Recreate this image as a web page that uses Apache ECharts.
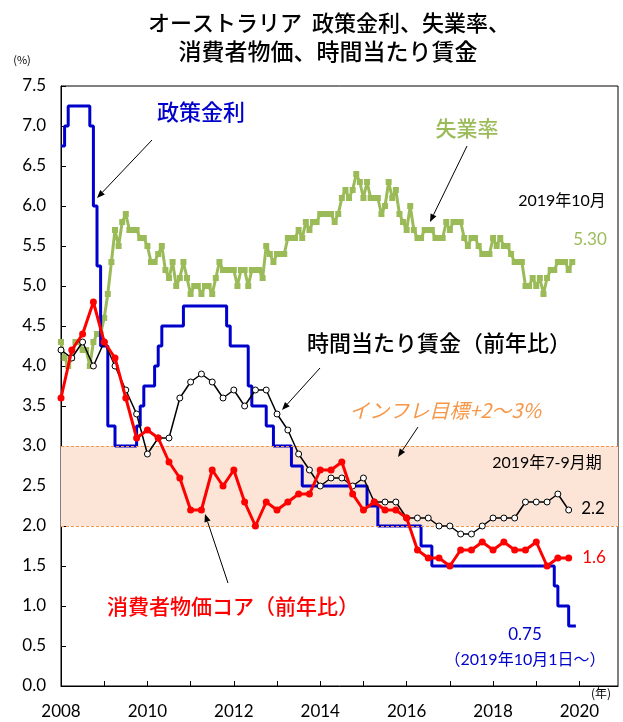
<!DOCTYPE html>
<html><head><meta charset="utf-8">
<script src="https://cdn.jsdelivr.net/npm/echarts@6/dist/echarts.min.js"></script>
<style>html,body{margin:0;padding:0;background:#fff}#c{width:623px;height:722px}</style>
</head><body><div id="c"></div>
<script>
// x positions are months counted from the "2008" tick (index 0 = Dec 2007)
const yearTicks = [2008, 2010, 2012, 2014, 2016, 2018, 2020];

// RBA cash rate, monthly (Dec 2007 .. Nov 2019)
const policyRate = [
  6.75, 6.75, 7.00, 7.25, 7.25, 7.25, 7.25, 7.25, 7.25, 7.00, 6.00, 5.25,
  4.25, 4.25, 3.25, 3.25, 3.00, 3.00, 3.00, 3.00, 3.00, 3.00, 3.25, 3.50,
  3.75, 3.75, 3.75, 4.00, 4.25, 4.50, 4.50, 4.50, 4.50, 4.50, 4.50, 4.75,
  4.75, 4.75, 4.75, 4.75, 4.75, 4.75, 4.75, 4.75, 4.75, 4.75, 4.75, 4.50,
  4.25, 4.25, 4.25, 4.25, 4.25, 3.75, 3.50, 3.50, 3.50, 3.50, 3.25, 3.25,
  3.00, 3.00, 3.00, 3.00, 3.00, 2.75, 2.75, 2.75, 2.50, 2.50, 2.50, 2.50,
  2.50, 2.50, 2.50, 2.50, 2.50, 2.50, 2.50, 2.50, 2.50, 2.50, 2.50, 2.50,
  2.50, 2.50, 2.25, 2.25, 2.25, 2.00, 2.00, 2.00, 2.00, 2.00, 2.00, 2.00,
  2.00, 2.00, 2.00, 2.00, 2.00, 1.75, 1.75, 1.75, 1.50, 1.50, 1.50, 1.50,
  1.50, 1.50, 1.50, 1.50, 1.50, 1.50, 1.50, 1.50, 1.50, 1.50, 1.50, 1.50,
  1.50, 1.50, 1.50, 1.50, 1.50, 1.50, 1.50, 1.50, 1.50, 1.50, 1.50, 1.50,
  1.50, 1.50, 1.50, 1.50, 1.50, 1.50, 1.25, 1.00, 1.00, 1.00, 0.75, 0.75
];

// Unemployment rate, monthly (Dec 2007 .. Oct 2019)
const unemployment = [
  4.3, 4.1, 4.0, 4.1, 4.3, 4.3, 4.2, 4.2, 4.0, 4.3, 4.4, 4.4,
  4.6, 4.9, 5.3, 5.7, 5.5, 5.8, 5.9, 5.7, 5.7, 5.7, 5.6, 5.6,
  5.5, 5.3, 5.3, 5.4, 5.5, 5.2, 5.1, 5.3, 5.0, 5.1, 5.3, 5.1,
  4.9, 5.0, 5.0, 4.9, 5.0, 5.0, 4.9, 5.1, 5.3, 5.2, 5.2, 5.2,
  5.2, 5.0, 5.2, 5.2, 5.0, 5.2, 5.2, 5.2, 5.1, 5.5, 5.4, 5.3,
  5.4, 5.4, 5.4, 5.6, 5.6, 5.6, 5.7, 5.6, 5.8, 5.7, 5.8, 5.8,
  5.9, 5.9, 5.9, 5.9, 5.8, 5.9, 6.1, 6.2, 6.1, 6.2, 6.4, 6.3,
  6.1, 6.3, 6.1, 6.1, 6.1, 5.9, 6.0, 6.3, 6.1, 6.2, 5.9, 5.8,
  5.7, 6.0, 5.7, 5.6, 5.6, 5.7, 5.7, 5.7, 5.6, 5.6, 5.6, 5.8,
  5.7, 5.8, 5.8, 5.8, 5.6, 5.5, 5.6, 5.6, 5.5, 5.4, 5.4, 5.4,
  5.6, 5.5, 5.6, 5.5, 5.5, 5.4, 5.3, 5.3, 5.3, 5.0, 5.0, 5.1,
  5.0, 5.1, 4.9, 5.1, 5.2, 5.2, 5.3, 5.3, 5.3, 5.2, 5.3
];

// Core CPI y/y, quarterly (Q4 2007 .. Q3 2019)
const coreCPI = [
  3.6, 4.2, 4.4, 4.8, 4.3, 4.1, 3.6, 3.1, 3.2, 3.1, 2.8, 2.6,
  2.2, 2.2, 2.7, 2.5, 2.7, 2.3, 2.0, 2.3, 2.2, 2.3, 2.4, 2.4,
  2.7, 2.7, 2.8, 2.4, 2.2, 2.3, 2.2, 2.2, 2.1, 1.7, 1.6, 1.6,
  1.5, 1.7, 1.7, 1.8, 1.7, 1.8, 1.7, 1.7, 1.8, 1.5, 1.6, 1.6
];

// Hourly wages y/y, quarterly (Q4 2007 .. Q3 2019)
const wages = [
  4.2, 4.1, 4.3, 4.0, 4.3, 4.0, 3.7, 3.4, 2.9, 3.1, 3.1, 3.6,
  3.8, 3.9, 3.8, 3.6, 3.7, 3.5, 3.7, 3.7, 3.4, 3.2, 2.9, 2.7,
  2.5, 2.6, 2.6, 2.5, 2.6, 2.3, 2.3, 2.3, 2.1, 2.1, 2.1, 2.0,
  2.0, 1.9, 1.9, 2.0, 2.1, 2.1, 2.1, 2.3, 2.3, 2.3, 2.4, 2.2
];

const targetBand = [2.0, 3.0];

const JP = "'Noto Sans CJK JP', sans-serif";
const NUM = "Lato, 'Noto Sans CJK JP', sans-serif";

function arrow(x1, y1, x2, y2) {
  const a = Math.atan2(y2 - y1, x2 - x1), L = 8, W = 3.2;
  const bx = x2 - L * Math.cos(a), by = y2 - L * Math.sin(a);
  const px = -Math.sin(a) * W, py = Math.cos(a) * W;
  return [
    {type: 'line', shape: {x1, y1, x2: bx, y2: by}, style: {stroke: '#000', lineWidth: 1}, z: 100},
    {type: 'polygon', shape: {points: [[x2, y2], [bx + px, by + py], [bx - px, by - py]]}, style: {fill: '#000'}, z: 100}
  ];
}
function txt(text, x, y, size, color, font, weight, italic) {
  const f = (italic ? 'italic ' : '') + (weight || 'normal') + ' ' + size + 'px ' + font;
  return {type: 'text', x, y, z: 100,
    style: {text, fill: color, font: f,
      align: 'center', verticalAlign: 'middle', textAlign: 'center', textVerticalAlign: 'middle'}};
}

const chart = echarts.init(document.getElementById('c'));
chart.setOption({
  animation: false,
  backgroundColor: '#fff',
  grid: {left: 61, right: 5, top: 86, bottom: 36, show: true, borderColor: '#000', borderWidth: 1, backgroundColor: 'transparent'},
  xAxis: {
    type: 'value', min: 0, max: 154.7, interval: 12,
    axisLine: {show: true, lineStyle: {color: '#000', width: 1}},
    axisTick: {show: true, inside: true, length: 5, lineStyle: {color: '#000'}},
    splitLine: {show: false},
    axisLabel: {
      margin: 17, color: '#000', fontSize: 17, fontFamily: NUM, showMaxLabel: false, hideOverlap: false,
      formatter: v => { const y = 2008 + v / 12; return yearTicks.includes(y) ? String(y) : ''; }
    }
  },
  yAxis: {
    type: 'value', min: 0, max: 7.5, interval: 0.5,
    axisLine: {show: true, lineStyle: {color: '#000', width: 1}},
    axisTick: {show: true, inside: true, length: 5, lineStyle: {color: '#000'}},
    splitLine: {show: false},
    axisLabel: {margin: 15, color: '#000', fontSize: 17, fontFamily: NUM, formatter: v => v.toFixed(1)}
  },
  series: [
    {
      type: 'line', name: 'band', data: [], silent: true,
      markArea: {silent: true, itemStyle: {color: '#FCE5D7'}, data: [[{yAxis: targetBand[0]}, {yAxis: targetBand[1]}]]},
      markLine: {silent: true, symbol: 'none', label: {show: false},
        lineStyle: {color: '#F79646', type: [3, 2], width: 1},
        data: targetBand.map(v => ({yAxis: v}))}
    },
    {
      type: 'line', name: '失業率', data: unemployment.map((v, i) => [i, v]),
      symbol: 'rect', symbolSize: 6, showAllSymbol: true,
      lineStyle: {color: '#9BBB59', width: 3}, itemStyle: {color: '#9BBB59'}, z: 3
    },
    {
      type: 'line', name: '政策金利', data: policyRate.map((v, i) => [i, v]), step: 'start',
      symbol: 'none', lineStyle: {color: '#0000CC', width: 3}, z: 4
    },
    {
      type: 'line', name: '時間当たり賃金', data: wages.map((v, i) => [i * 3, v]),
      symbol: 'circle', symbolSize: 6, showAllSymbol: true,
      lineStyle: {color: '#000', width: 1.5}, itemStyle: {color: '#fff', borderColor: '#000', borderWidth: 1}, z: 5
    },
    {
      type: 'line', name: '消費者物価コア', data: coreCPI.map((v, i) => [i * 3, v]),
      symbol: 'circle', symbolSize: 7, showAllSymbol: true,
      lineStyle: {color: '#FF0000', width: 3}, itemStyle: {color: '#FF0000'}, z: 6
    }
  ],
  graphic: [
    txt('オーストラリア  政策金利、失業率、', 329, 23, 22, '#000', JP, 500),
    txt('消費者物価、時間当たり賃金', 328, 51, 23, '#000', JP, 500),
    txt('(%)', 22, 60, 11, '#000', JP),
    txt('(年)', 601, 693, 12, '#000', JP),
    txt('政策金利', 201, 112, 22, '#0000CC', JP, 500),
    txt('失業率', 467, 128, 21, '#9BBB59', JP, 500),
    txt('2019年10月', 562, 201, 16, '#000', NUM),
    txt('5.30', 590, 240, 17, '#9BBB59', NUM),
    txt('時間当たり賃金（前年比）', 439, 343, 22, '#000', JP, 500),
    txt('インフレ目標+2～3%', 445, 410, 20, '#F79646', JP, 'normal', true),
    txt('2019年7-9月期', 547, 463, 16, '#000', NUM),
    txt('2.2', 593, 509, 17, '#000', NUM),
    txt('1.6', 594, 558, 17, '#FF0000', NUM),
    txt('消費者物価コア（前年比）', 233, 606, 21, '#FF0000', JP, 500),
    txt('0.75', 525, 635, 17, '#0000CC', NUM),
    txt('（2019年10月1日～）', 525, 660, 16, '#0000CC', NUM),
    ...arrow(152, 140, 97, 198),
    ...arrow(467, 146, 430, 222),
    ...arrow(320, 368, 282, 410),
    ...arrow(418, 427, 398, 457),
    ...arrow(228, 583, 205, 514)
  ]
});
</script>
</body></html>
